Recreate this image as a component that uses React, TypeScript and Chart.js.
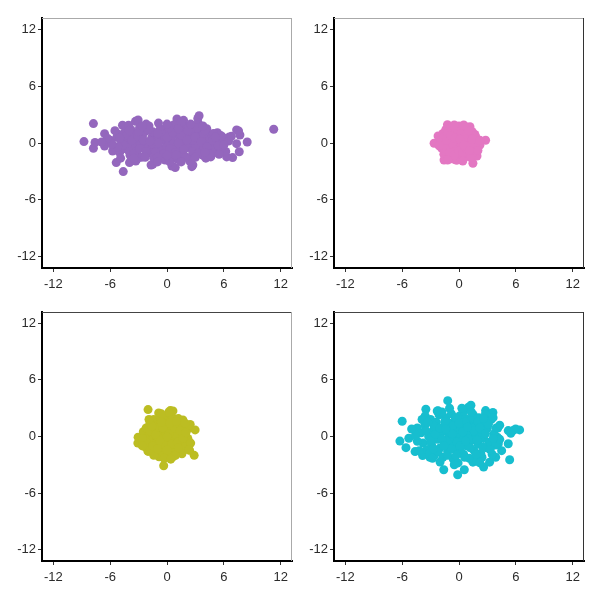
import React, { useEffect, useRef } from "react";
import { Chart, registerables } from "chart.js";

Chart.register(...registerables);

const TICKS: number[] = [-12, -6, 0, 6, 12];
const AXIS_MIN = -13.2;
const AXIS_MAX = 13.2;

const purplePoints: [number, number][] = [
  [-8.77, 0.15], [-7.77, 2.05], [-7.77, -0.56], [-7.6, 0.05], [-6.59, 0.99], [-5.36, -2.07],
  [-4.62, -3.02], [-3.33, 2.29], [-3.05, 2.43], [-1.68, -2.32], [-1.5, -2.25], [1.05, 2.54],
  [1.75, 2.39], [3.39, 2.89], [3.25, 2.6], [0.87, -2.6], [2.62, -2.5], [2.73, -2.32],
  [11.27, 1.45], [8.47, 0.11], [7.7, 0.85], [7.35, 1.38], [7.56, 1.27], [6.93, -1.54],
  [6.3, -1.47], [7.63, -0.93], [7.35, -0.07], [6.58, 0.63], [5.46, -0.04], [5.67, 0.8],
  [5.32, 1.08], [4.48, 0.8], [4.62, -1.47], [3.85, -1.12], [-3.96, -2.07], [-3.19, -1.72],
  [-5.22, 0.95], [-4.7, 1.87], [-4.06, 1.87], [-5.74, -0.85], [-6.59, -0.32], [0.7, 1.6],
  [-0.18, 1.37], [0.52, -2.43],
  [-6.0, 0.3], [-5.6, -0.4], [-5.3, 0.6], [-5.0, -1.0], [-4.8, 0.1], [-4.5, 1.1], [-4.4, -0.6],
  [-4.1, 0.5], [-3.9, -1.3], [-3.8, 1.4], [-3.6, -0.2], [-3.4, 0.9], [-3.2, -0.9], [-3.0, 0.2],
  [-2.9, 1.6], [-2.7, -1.5], [-2.6, 0.7], [-2.4, -0.5], [-2.3, 1.2], [-2.1, -1.1], [-2.0, 0.0],
  [-1.9, 1.8], [-1.7, -0.8], [-1.6, 0.6], [-1.4, -1.6], [-1.3, 1.0], [-1.1, -0.3], [-1.0, 0.4],
  [-0.8, -1.2], [-0.7, 1.5], [-0.5, -0.6], [-0.4, 0.8], [-0.2, -1.8], [-0.1, 0.1], [0.1, 1.2],
  [0.2, -0.9], [0.4, 0.5], [0.5, -1.4], [0.7, 1.9], [0.8, -0.2], [1.0, 0.9], [1.1, -1.7],
  [1.3, 0.3], [1.4, -0.7], [1.6, 1.4], [1.7, -1.2], [1.9, 0.0], [2.0, 1.7], [2.2, -0.4],
  [2.3, 0.7], [2.5, -1.5], [2.6, 1.1], [2.8, -0.1], [2.9, 1.8], [3.1, -0.9], [3.2, 0.4],
  [3.4, 1.3], [3.5, -0.5], [3.7, 0.8], [3.8, -1.3], [4.0, 0.1], [4.2, 1.5], [4.3, -0.8],
  [4.5, 0.5], [4.7, -0.3], [4.9, 1.0], [5.0, -1.0], [5.3, 0.3], [5.6, -0.6], [5.9, 0.6],
  [6.2, -0.9], [6.5, 0.2], [-5.5, 1.3], [-4.9, -1.6], [-3.3, -1.9], [-2.2, 2.0], [-0.9, 2.1],
  [0.3, -2.0], [1.5, 2.2], [2.4, -1.9], [3.3, 2.1], [4.1, -1.6], [-1.5, -0.1], [-0.3, 0.3],
  [0.6, -0.1], [1.8, 0.5], [3.0, -0.3], [-2.8, -0.2], [-4.2, -0.3], [2.7, 0.3], [0.0, -0.4],
  [-1.2, 0.0],
  [-4.6, -0.2], [-4.3, 0.8], [-4.0, -0.9], [-3.7, 0.3], [-3.5, -1.1], [-3.1, 0.7], [-2.9, -0.6],
  [-2.5, 0.3], [-2.2, -0.9], [-1.8, 0.2], [-1.5, 1.2], [-1.2, -1.0], [-0.9, 0.0], [-0.6, 0.9],
  [-0.3, -1.1], [0.0, 0.6], [0.3, -0.6], [0.6, 1.1], [0.9, -1.0], [1.2, 0.0], [1.5, 0.8],
  [1.8, -0.7], [2.1, 0.3], [2.4, 1.3], [2.7, -0.9], [3.0, 0.6], [3.3, -1.1], [3.6, 0.1],
  [3.9, 1.0], [4.2, -0.4], [4.5, -1.2], [4.8, 0.3], [5.1, 0.6], [5.4, -0.3], [-5.2, -0.4],
  [-5.8, -0.1], [-6.3, 0.5], [-3.0, 1.2], [-2.0, 1.4], [-1.0, 1.0], [0.2, 1.6], [1.2, 1.5],
  [2.2, 1.3], [3.2, 1.6], [4.0, 1.3], [-3.5, -1.6], [-2.3, -1.5], [-1.0, -1.5], [0.0, -1.3],
  [1.0, -1.3], [2.0, -1.5], [3.0, -1.5], [4.0, -1.0], [2.5, 2.0], [0.0, 2.0], [-1.0, -2.0],
  [1.5, -2.0], [-2.6, 1.8], [3.8, 1.8], [-4.0, 1.3], [5.5, -1.2], [6.0, -0.2], [-5.0, 0.5],
  [6.8, 0.7], [-6.9, 0.1],
];

const pinkPoints: [number, number][] = [
  [-2.63, -0.03], [-2.21, 0.74], [-1.22, 1.94], [-1.58, -1.79], [1.47, -2.14], [2.81, 0.29],
  [1.9, -1.37], [2.2, -0.23], [1.16, 1.72], [1.68, 0.9], [-0.3, -1.8], [-1.7, -0.5],
  [-1.9, 0.3], [-1.8, -0.6], [-1.7, 1.0], [-1.6, -1.2], [-1.5, 0.0], [-1.4, 1.4], [-1.3, -0.3],
  [-1.2, 0.7], [-1.1, -1.5], [-1.0, 0.2], [-0.9, 1.6], [-0.8, -0.8], [-0.7, 0.5], [-0.6, -1.7],
  [-0.5, 1.1], [-0.4, -0.2], [-0.3, 0.8], [-0.2, -1.1], [-0.1, 1.5], [0.0, 0.0], [0.1, -1.4],
  [0.2, 0.6], [0.3, -0.5], [0.4, 1.3], [0.5, -1.6], [0.6, 0.3], [0.7, -0.9], [0.8, 1.7],
  [0.9, -0.1], [1.0, 0.9], [1.1, -1.2], [1.2, 0.4], [1.3, -0.6], [1.4, 1.2], [1.5, -1.0],
  [1.6, 0.1], [1.7, -0.4], [1.8, 0.6], [-1.0, -0.6], [-0.5, 0.4], [0.2, -0.3], [0.6, 1.0],
  [-0.8, 1.2], [1.2, -1.5], [-1.4, -0.9], [0.0, 1.8], [-0.2, -1.8], [0.9, 0.5], [-1.6, 0.6],
  [1.5, 0.8], [0.3, 0.1], [-0.6, -0.4],
  [-1.8, 0.0], [-1.5, -0.6], [-1.2, 1.0], [-1.0, -1.0], [-0.7, 0.0], [-0.5, -1.3], [-0.3, 1.3],
  [0.0, -0.8], [0.2, 1.0], [0.4, -1.1], [0.6, 0.6], [0.8, -0.6], [1.0, 1.3], [1.2, -0.2],
  [1.4, 0.4], [-1.3, 0.3], [-0.9, 0.8], [-0.4, 0.5], [0.1, 0.4], [0.5, -0.2], [1.1, -0.8],
  [-1.2, -1.8], [0.4, -1.9], [-0.5, 1.9], [0.5, 1.9], [2.0, -0.8], [-2.1, -0.3], [2.2, 0.3],
];

const olivePoints: [number, number][] = [
  [-2.0, 2.85], [-0.88, 2.5], [0.35, 2.75], [0.63, 2.71], [2.97, 0.7], [2.45, 1.27],
  [2.87, -2.0], [2.38, -1.46], [-0.35, -3.1], [-2.0, -1.58], [-3.08, -0.7], [-3.05, -0.07],
  [-0.84, -2.15], [0.63, -2.15], [1.58, -1.83], [-2.28, 0.28], [-1.75, 1.05], [1.68, 1.75],
  [-2.5, 0.5], [-2.4, -0.4], [-2.3, -1.1], [-2.2, 0.9], [-2.0, 0.0], [-1.9, -0.8], [-1.8, 1.4],
  [-1.7, -1.5], [-1.6, 0.4], [-1.5, -0.3], [-1.4, 1.8], [-1.3, -1.2], [-1.2, 0.8], [-1.1, -0.6],
  [-1.0, 1.2], [-0.9, -1.8], [-0.8, 0.2], [-0.7, 2.0], [-0.6, -1.0], [-0.5, 0.6], [-0.4, -0.2],
  [-0.3, 1.5], [-0.2, -1.5], [-0.1, 0.3], [0.0, 2.2], [0.1, -0.7], [0.2, 1.0], [0.3, -1.9],
  [0.4, 0.0], [0.5, 1.7], [0.6, -1.2], [0.7, 0.5], [0.8, -0.4], [0.9, 1.3], [1.0, -1.6],
  [1.1, 0.9], [1.2, -0.1], [1.3, 1.6], [1.4, -0.9], [1.5, 0.4], [1.6, -1.3], [1.7, 1.0],
  [1.8, -0.5], [1.9, 0.2], [2.0, -1.0], [2.1, 0.7], [2.2, -0.2], [2.3, 1.2], [-0.5, -1.6],
  [0.3, 0.7], [-1.0, 0.0], [1.0, 0.1], [0.0, -0.5], [-0.2, 1.0], [0.6, 2.0], [-1.4, -2.0],
  [0.9, -2.0], [-2.0, -1.5], [2.5, -0.7], [0.2, 2.6], [-0.6, 2.4], [1.2, 1.9],
  [-2.2, -0.6], [-1.8, 0.6], [-1.5, -1.0], [-1.2, 0.2], [-0.9, 1.0], [-0.7, -0.5], [-0.4, 0.9],
  [-0.1, -1.0], [0.2, 0.3], [0.5, -0.8], [0.8, 0.9], [1.1, -0.6], [1.4, 0.6], [1.7, -0.2],
  [2.0, 0.4], [-1.6, 1.1], [-0.6, 1.5], [0.3, 1.4], [1.0, 1.6], [-1.0, -1.3], [0.0, -1.4],
  [1.2, -1.2], [-2.6, -0.2], [-0.3, -2.3], [0.4, -2.4], [1.9, 1.4], [2.3, -1.4], [-1.9, 1.8],
  [-2.6, -1.0], [0.0, 0.0],
];

const cyanPoints: [number, number][] = [
  [-6.0, 1.62], [-6.24, -0.49], [-5.6, -1.18], [-5.3, -0.18], [-4.64, -1.6], [-4.4, 0.9],
  [-3.84, -2.02], [-3.5, 2.89], [-3.57, 2.18], [-3.08, -2.2], [-2.21, 2.72], [-1.19, 3.8],
  [-1.61, -3.52], [-0.14, -4.05], [0.56, -3.52], [1.26, 3.31], [2.81, 2.75], [3.58, 2.54],
  [3.93, 0.9], [2.6, -3.24], [1.47, -2.72], [3.23, -2.72], [3.87, -2.2], [4.15, -0.77],
  [5.2, -0.77], [5.35, -2.46], [5.2, 0.63], [5.7, 0.63], [6.4, 0.7], [5.98, 0.8], [5.47, 0.35],
  [4.05, -0.07], [2.43, -2.2],
  [-4.0, 0.4], [-3.8, -0.7], [-3.6, 1.2], [-3.4, -1.4], [-3.2, 0.0], [-3.0, 1.8], [-2.9, -0.9],
  [-2.7, 0.7], [-2.6, -2.0], [-2.4, 1.5], [-2.3, -0.3], [-2.1, 2.3], [-2.0, -1.2], [-1.9, 0.4],
  [-1.7, -2.2], [-1.6, 1.0], [-1.5, -0.6], [-1.4, 2.0], [-1.2, -1.6], [-1.1, 0.2], [-1.0, 1.4],
  [-0.9, -0.9], [-0.8, 2.4], [-0.6, -2.4], [-0.5, 0.7], [-0.4, -0.2], [-0.3, 1.7], [-0.2, -1.3],
  [0.0, 0.3], [0.1, 2.2], [0.2, -0.7], [0.3, 1.1], [0.5, -1.9], [0.6, 0.0], [0.7, 1.9],
  [0.8, -1.0], [1.0, 0.6], [1.1, -2.3], [1.2, 1.4], [1.3, -0.4], [1.5, 2.3], [1.6, -1.5],
  [1.7, 0.2], [1.9, 1.2], [2.0, -0.8], [2.1, 2.0], [2.3, -1.8], [2.4, 0.5], [2.6, -0.2],
  [2.7, 1.5], [2.9, -1.2], [3.0, 0.9], [3.2, -0.6], [3.4, 1.8], [3.5, -1.9], [3.7, 0.3],
  [3.9, -0.9], [4.1, 0.9], [4.3, -0.3], [-3.9, 1.8], [-4.4, -0.5], [-3.1, -1.8], [-0.2, 0.8],
  [0.4, -0.4], [-0.7, -0.1], [0.9, 0.3], [-1.3, -0.5], [1.4, 0.9], [-2.5, 0.2], [2.2, -0.1],
  [-0.1, -2.8], [0.5, 2.7], [-1.8, 2.6], [1.9, -2.6], [2.8, 2.4], [-2.8, -2.3], [-1.0, 3.0],
  [1.0, 3.1],
  [-3.5, 0.6], [-3.0, -0.5], [-2.6, 1.1], [-2.2, -1.6], [-2.0, 0.9], [-1.8, -0.3], [-1.5, 1.6],
  [-1.2, -2.0], [-1.0, 0.5], [-0.8, -1.3], [-0.6, 1.2], [-0.4, 2.0], [-0.2, -0.6], [0.0, 1.4],
  [0.2, -1.6], [0.4, 0.5], [0.6, -2.2], [0.8, 1.6], [1.0, -0.3], [1.2, -1.2], [1.4, 2.0],
  [1.6, 0.6], [1.8, -1.9], [2.0, 1.6], [2.2, 0.9], [2.5, -1.1], [2.8, 0.3], [3.1, 1.3],
  [3.3, -1.4], [3.6, -0.2], [-3.3, 1.5], [-2.7, -1.3], [-1.6, -1.0], [-0.7, 0.3], [0.1, -1.0],
  [0.9, 1.0], [1.9, -0.4], [2.6, 1.9], [-1.4, 0.8], [0.7, -0.5], [-0.3, -2.0], [1.3, 2.6],
  [-2.3, 2.7], [3.6, 2.0], [4.3, 1.2], [-4.6, 0.1], [-5.0, 0.8], [4.5, -1.5], [-4.2, -1.5],
  [0.3, 3.0], [-0.5, -3.0], [2.2, -2.8], [-2.0, -2.7],
];

type PanelProps = {
  points: [number, number][];
  color: string;
  left: number;
  top: number;
  yWidth: number;
  xHeight: number;
  padTop: number;
  padRight: number;
  topColor: string;
  rightColor: string;
};

const FONT = { family: "'Liberation Sans', Arial, sans-serif", size: 13 };
const TEXT_COLOR = "#2b2b2b";

function Panel(props: PanelProps) {
  const ref = useRef<HTMLCanvasElement | null>(null);
  useEffect(() => {
    if (!ref.current) return;
    const { points, color, yWidth, xHeight, padTop, padRight, topColor, rightColor } = props;
    const tickSetter = (s: any) => {
      s.ticks = TICKS.map((v) => ({ value: v }));
    };
    const chart = new Chart(ref.current, {
      type: "scatter",
      data: {
        datasets: [
          {
            data: points.map(([x, y]) => ({ x, y })),
            backgroundColor: color,
            borderColor: color,
            borderWidth: 0,
            pointRadius: 4.5,
            pointHoverRadius: 4.5,
          },
        ],
      },
      options: {
        animation: false,
        responsive: false,
        maintainAspectRatio: false,
        devicePixelRatio: 1,
        events: [],
        layout: { padding: { top: padTop, right: padRight, left: 0, bottom: 0 } },
        plugins: { legend: { display: false }, tooltip: { enabled: false } },
        scales: {
          x: {
            type: "linear",
            min: AXIS_MIN,
            max: AXIS_MAX,
            afterBuildTicks: tickSetter,
            afterFit: (s: any) => {
              s.height = xHeight;
            },
            grid: { drawOnChartArea: false, drawTicks: true, tickLength: 4, color: "#333333", lineWidth: 1 },
            border: { display: true, color: "#000000", width: 2 },
            ticks: { font: FONT, color: TEXT_COLOR, padding: 5, maxRotation: 0, autoSkip: false },
          },
          y: {
            type: "linear",
            min: AXIS_MIN,
            max: AXIS_MAX,
            afterBuildTicks: tickSetter,
            afterFit: (s: any) => {
              s.width = yWidth;
            },
            grid: { drawOnChartArea: false, drawTicks: true, tickLength: 4, color: "#333333", lineWidth: 1 },
            border: { display: true, color: "#000000", width: 2 },
            ticks: { font: FONT, color: TEXT_COLOR, padding: 2, autoSkip: false },
          },
        },
      },
      plugins: [
        {
          id: "frame",
          afterDraw(c: any) {
            const { ctx, chartArea } = c;
            ctx.save();
            ctx.lineWidth = 1;
            ctx.strokeStyle = topColor;
            ctx.beginPath();
            ctx.moveTo(chartArea.left, Math.round(chartArea.top) + 0.5);
            ctx.lineTo(chartArea.right, Math.round(chartArea.top) + 0.5);
            ctx.stroke();
            ctx.strokeStyle = rightColor;
            ctx.beginPath();
            ctx.moveTo(Math.round(chartArea.right) - 0.5, chartArea.top);
            ctx.lineTo(Math.round(chartArea.right) - 0.5, chartArea.bottom);
            ctx.stroke();
            ctx.restore();
          },
        },
      ],
    } as any);
    return () => chart.destroy();
  }, []);
  return (
    <canvas
      ref={ref}
      width={300}
      height={300}
      style={{ position: "absolute", left: props.left, top: props.top, width: 300, height: 300 }}
    />
  );
}

export default function App() {
  return (
    <div style={{ position: "absolute", left: 0, top: 0, width: 600, height: 600, background: "#ffffff" }}>
      <Panel points={purplePoints} color="#9467BD" left={0} top={0} yWidth={42} xHeight={32} padTop={18} padRight={8} topColor="#aaaaaa" rightColor="#aaaaaa" />
      <Panel points={pinkPoints} color="#E377C2" left={300} top={0} yWidth={34} xHeight={32} padTop={18} padRight={16} topColor="#aaaaaa" rightColor="#333333" />
      <Panel points={olivePoints} color="#BCBD22" left={0} top={300} yWidth={42} xHeight={39} padTop={12} padRight={8} topColor="#444444" rightColor="#aaaaaa" />
      <Panel points={cyanPoints} color="#17BECF" left={300} top={300} yWidth={34} xHeight={39} padTop={12} padRight={16} topColor="#444444" rightColor="#333333" />
    </div>
  );
}
